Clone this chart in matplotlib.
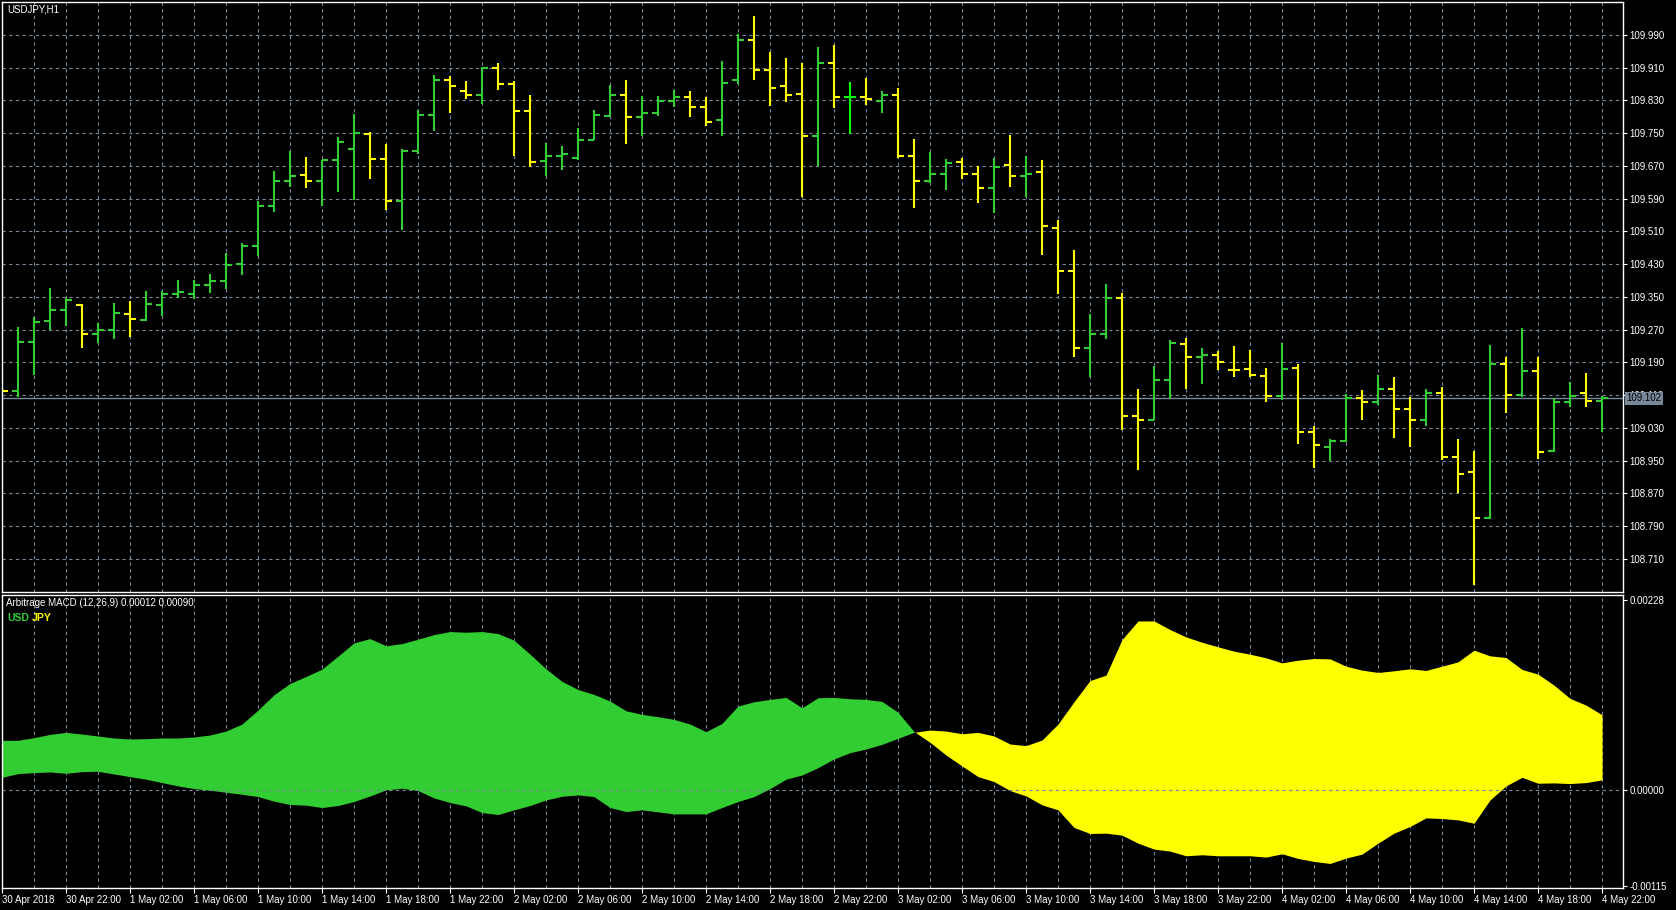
import numpy as np
import matplotlib
matplotlib.use("Agg")
import matplotlib.pyplot as plt

plt.rcParams['font.family'] = ['Liberation Sans', 'DejaVu Sans']

# USDJPY H1, 30 Apr 2018 18:00 .. 4 May 2018 22:00 (101 bars)
opens = [109.125, 109.121, 109.240, 109.292, 109.317, 109.330, 109.260, 109.269, 109.309, 109.294,
         109.331, 109.358, 109.358, 109.380, 109.389, 109.431, 109.473, 109.571, 109.632, 109.647,
         109.634, 109.683, 109.712, 109.747, 109.687, 109.583, 109.705, 109.795, 109.880, 109.852,
         109.843, 109.910, 109.870, 109.805, 109.682, 109.693, 109.690, 109.734, 109.792, 109.843,
         109.788, 109.798, 109.827, 109.837, 109.813, 109.781, 109.879, 109.976, 109.903, 109.864,
         109.846, 109.742, 109.922, 109.837, 109.837, 109.827, 109.844, 109.695, 109.632, 109.651,
         109.678, 109.649, 109.615, 109.673, 109.644, 109.656, 109.519, 109.412, 109.224, 109.259,
         109.346, 109.058, 109.050, 109.148, 109.234, 109.202, 109.207, 109.172, 109.173, 109.156,
         109.107, 109.175, 109.021, 108.984, 108.997, 109.102, 109.094, 109.124, 109.075, 109.050,
         109.114, 108.958, 108.921, 108.809, 109.185, 109.111, 109.168, 108.974, 109.092, 109.115,
         109.095]
highs = [109.128, 109.276, 109.300, 109.372, 109.347, 109.333, 109.287, 109.335, 109.340, 109.365,
         109.365, 109.392, 109.392, 109.406, 109.458, 109.482, 109.585, 109.658, 109.707, 109.692,
         109.685, 109.741, 109.797, 109.753, 109.724, 109.712, 109.807, 109.892, 109.890, 109.878,
         109.912, 109.922, 109.878, 109.843, 109.726, 109.719, 109.763, 109.807, 109.868, 109.880,
         109.840, 109.841, 109.856, 109.853, 109.839, 109.927, 109.993, 110.036, 109.948, 109.934,
         109.922, 109.961, 109.966, 109.875, 109.885, 109.853, 109.861, 109.736, 109.704, 109.687,
         109.690, 109.670, 109.690, 109.746, 109.694, 109.685, 109.538, 109.465, 109.309, 109.382,
         109.360, 109.125, 109.182, 109.245, 109.250, 109.225, 109.217, 109.230, 109.221, 109.177,
         109.236, 109.186, 109.034, 109.002, 109.113, 109.123, 109.160, 109.155, 109.106, 109.125,
         109.129, 109.003, 108.974, 109.233, 109.204, 109.274, 109.204, 109.104, 109.143, 109.164,
         109.108]
lows = [109.118, 109.105, 109.159, 109.268, 109.279, 109.226, 109.236, 109.248, 109.253, 109.290,
        109.304, 109.346, 109.344, 109.360, 109.370, 109.404, 109.450, 109.558, 109.617, 109.615,
        109.572, 109.605, 109.587, 109.638, 109.563, 109.512, 109.699, 109.754, 109.800, 109.834,
        109.822, 109.854, 109.693, 109.666, 109.644, 109.660, 109.684, 109.733, 109.791, 109.724,
        109.742, 109.791, 109.813, 109.788, 109.766, 109.742, 109.870, 109.879, 109.815, 109.825,
        109.593, 109.669, 109.810, 109.747, 109.819, 109.800, 109.688, 109.568, 109.627, 109.610,
        109.637, 109.580, 109.554, 109.617, 109.593, 109.451, 109.358, 109.204, 109.153, 109.248,
        109.025, 108.926, 109.050, 109.101, 109.126, 109.138, 109.171, 109.153, 109.153, 109.094,
        109.099, 108.990, 108.931, 108.949, 108.996, 109.048, 109.086, 109.004, 108.982, 109.034,
        108.951, 108.872, 108.647, 108.808, 109.066, 109.105, 108.955, 108.972, 109.082, 109.082,
        109.019]
closes = [109.121, 109.240, 109.289, 109.318, 109.343, 109.260, 109.269, 109.311, 109.296, 109.333,
          109.358, 109.361, 109.378, 109.388, 109.427, 109.475, 109.571, 109.634, 109.644, 109.634,
          109.683, 109.727, 109.749, 109.687, 109.585, 109.705, 109.795, 109.880, 109.864, 109.843,
          109.910, 109.870, 109.805, 109.678, 109.693, 109.698, 109.734, 109.795, 109.843, 109.788,
          109.798, 109.827, 109.839, 109.813, 109.776, 109.871, 109.976, 109.903, 109.861, 109.844,
          109.742, 109.922, 109.837, 109.837, 109.832, 109.842, 109.695, 109.634, 109.651, 109.676,
          109.649, 109.615, 109.668, 109.644, 109.651, 109.522, 109.412, 109.224, 109.259, 109.346,
          109.058, 109.050, 109.148, 109.236, 109.202, 109.209, 109.190, 109.171, 109.158, 109.107,
          109.173, 109.021, 108.987, 108.997, 109.102, 109.094, 109.126, 109.076, 109.050, 109.114,
          108.959, 108.918, 108.809, 109.185, 109.111, 109.168, 108.972, 109.092, 109.107, 109.095,
          109.102]

# Arbitrage MACD buffers
usd = [0.000594, 0.000594, 0.000626, 0.000665, 0.000689, 0.000669, 0.000646, 0.000622, 0.000610, 0.000614,
       0.000622, 0.000622, 0.000634, 0.000658, 0.000705, 0.000789, 0.000956, 0.001140, 0.001275, 0.001359,
       0.001447, 0.001602, 0.001761, 0.001813, 0.001726, 0.001753, 0.001805, 0.001861, 0.001897, 0.001889,
       0.001897, 0.001873, 0.001793, 0.001626, 0.001450, 0.001300, 0.001203, 0.001144, 0.001064, 0.000948,
       0.000905, 0.000877, 0.000845, 0.000789, 0.000697, 0.000797, 0.001004, 0.001056, 0.001084, 0.001108,
       0.000984, 0.001104, 0.001108, 0.001092, 0.001084, 0.001060, 0.000929, 0.000700, 0.000570, 0.000418,
       0.000287, 0.000159, 0.000100, -0.000008, -0.000072, -0.000179, -0.000239, -0.000450, -0.000522, -0.000518,
       -0.000542, -0.000638, -0.000709, -0.000733, -0.000789, -0.000777, -0.000789, -0.000789, -0.000789, -0.000805,
       -0.000765, -0.000821, -0.000857, -0.000881, -0.000817, -0.000769, -0.000638, -0.000518, -0.000438, -0.000335,
       -0.000343, -0.000359, -0.000399, -0.000120, 0.000048, 0.000151, 0.000080, 0.000084, 0.000076, 0.000088,
       0.000120]
jpy = [0.000151, 0.000195, 0.000207, 0.000215, 0.000199, 0.000219, 0.000223, 0.000191, 0.000159, 0.000128,
       0.000088, 0.000048, 0.000016, -0.000004, -0.000028, -0.000052, -0.000080, -0.000135, -0.000175, -0.000183,
       -0.000211, -0.000187, -0.000139, -0.000072, 0.000000, 0.000020, -0.000008, -0.000096, -0.000151, -0.000191,
       -0.000271, -0.000295, -0.000239, -0.000187, -0.000120, -0.000076, -0.000060, -0.000080, -0.000211, -0.000259,
       -0.000239, -0.000263, -0.000287, -0.000287, -0.000287, -0.000211, -0.000139, -0.000080, 0.000016, 0.000128,
       0.000179, 0.000267, 0.000371, 0.000446, 0.000490, 0.000546, 0.000618, 0.000690, 0.000717, 0.000705,
       0.000673, 0.000689, 0.000646, 0.000550, 0.000530, 0.000598, 0.000789, 0.001056, 0.001310, 0.001375,
       0.001801, 0.002024, 0.002024, 0.001921, 0.001833, 0.001769, 0.001714, 0.001662, 0.001626, 0.001582,
       0.001522, 0.001554, 0.001574, 0.001570, 0.001482, 0.001435, 0.001407, 0.001427, 0.001451, 0.001431,
       0.001482, 0.001534, 0.001674, 0.001606, 0.001586, 0.001443, 0.001387, 0.001255, 0.001096, 0.001016,
       0.000900]

time_labels = ["30 Apr 2018", "30 Apr 22:00",
               "1 May 02:00", "1 May 06:00", "1 May 10:00", "1 May 14:00", "1 May 18:00", "1 May 22:00",
               "2 May 02:00", "2 May 06:00", "2 May 10:00", "2 May 14:00", "2 May 18:00", "2 May 22:00",
               "3 May 02:00", "3 May 06:00", "3 May 10:00", "3 May 14:00", "3 May 18:00", "3 May 22:00",
               "4 May 02:00", "4 May 06:00", "4 May 10:00", "4 May 14:00", "4 May 18:00", "4 May 22:00"]
price_ticks = [108.710, 108.790, 108.870, 108.950, 109.030, 109.110, 109.190, 109.270, 109.350,
               109.430, 109.510, 109.590, 109.670, 109.750, 109.830, 109.910, 109.990]
macd_ticks = [-0.00115, 0.0, 0.00228]

BULL = '#32CD32'
BEAR = '#FFFF00'
DOJI = '#00FF00'
GRID = '#778899'

o = np.array(opens); h = np.array(highs); l = np.array(lows); c = np.array(closes)
x = np.arange(len(o))
colors = np.where(c > o, BULL, np.where(c < o, BEAR, DOJI))

W, H = 1676, 910
fig = plt.figure(figsize=(W / 100, H / 100), dpi=100, facecolor='black')
ax = fig.add_axes([2 / W, 1 - 592 / H, 1621 / W, 590 / H], facecolor='black')
ax2 = fig.add_axes([2 / W, 1 - 888 / H, 1621 / W, 293 / H], facecolor='black')

for a in (ax, ax2):
    for s in a.spines.values():
        s.set_color('white')
        s.set_linewidth(1)
    a.set_xlim(0, 101.31)
    for xv in x[::2]:
        a.axvline(xv, color=GRID, lw=0.8, ls=(0, (3, 3)), zorder=0.5)

# price panel
for p in price_ticks:
    ax.axhline(p, color=GRID, lw=0.8, ls=(0, (3, 3)), zorder=0.5)
ax.axhline(c[-1], color=GRID, lw=1, zorder=1)
ax.vlines(x, l, h, colors=colors, lw=1.5, zorder=2)
ax.hlines(o, x - 0.38, x, colors=colors, lw=1.5, zorder=2)
ax.hlines(c, x, x + 0.38, colors=colors, lw=1.5, zorder=2)
ax.set_ylim(108.629, 110.070)
ax.set_xticks([])
ax.yaxis.tick_right()
ax.set_yticks(price_ticks)
ax.set_yticklabels(['%.3f' % p for p in price_ticks])
ax.tick_params(axis='y', colors='white', length=3, width=0.8, pad=1.5, labelsize=7)
ax.text(1.0019, c[-1], '%.3f' % c[-1], transform=ax.get_yaxis_transform(), color='black',
        fontsize=7, va='center', ha='left', clip_on=False, zorder=5,
        bbox=dict(boxstyle='square,pad=0.15', fc=GRID, ec='none'))
fig.text(7 / W, 1 - 9 / H, 'USDJPY,H1', color='white', fontsize=7, va='center')

# indicator panel
u = np.array(usd); j = np.array(jpy)
ax2.fill_between(x, u, j, where=u >= j, interpolate=True, color=BULL, lw=0, zorder=1)
ax2.fill_between(x, u, j, where=u <= j, interpolate=True, color=BEAR, lw=0, zorder=1)
ax2.axhline(0, color=GRID, lw=0.8, ls=(0, (3, 3)), zorder=2)
ax2.set_ylim(-0.001175, 0.002335)
ax2.yaxis.tick_right()
ax2.set_yticks(macd_ticks)
ax2.set_yticklabels(['%.5f' % v for v in macd_ticks])
ax2.tick_params(axis='y', colors='white', length=3, width=0.8, pad=1.5, labelsize=7)
ax2.set_xticks(x[::4])
ax2.set_xticklabels(time_labels, ha='left')
ax2.tick_params(axis='x', colors='white', length=3.5, width=0.8, pad=1.5, labelsize=7)

fig.text(6 / W, 1 - 603 / H, 'Arbitrage MACD (12,26,9) %.5f %.5f' % (usd[-1], jpy[-1]),
         color='white', fontsize=7, va='center')
fig.text(7 / W, 1 - 618 / H, 'USD', color=BULL, fontsize=7.5, fontweight='bold', va='center')
fig.text(32 / W, 1 - 618 / H, 'JPY', color=BEAR, fontsize=7.5, fontweight='bold', va='center')

fig.savefig('out.png', dpi=100, facecolor='black')
